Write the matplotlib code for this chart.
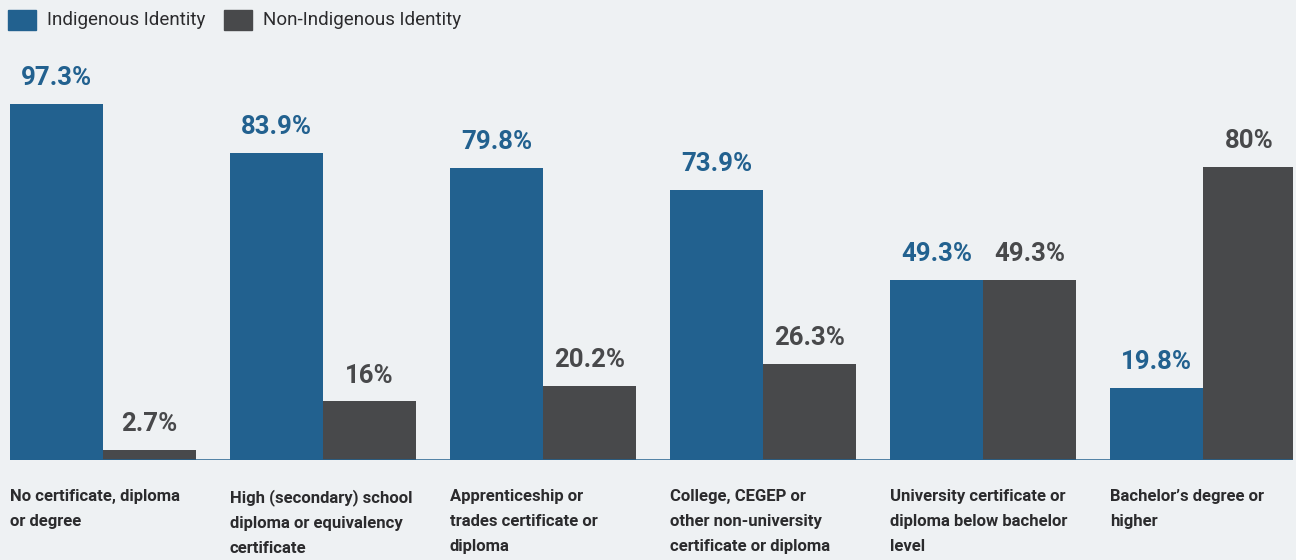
import matplotlib
matplotlib.use("Agg")
import matplotlib.pyplot as plt
from matplotlib.patches import Rectangle
import numpy as np

categories = [
    "No certificate, diploma\nor degree",
    "High (secondary) school\ndiploma or equivalency\ncertificate",
    "Apprenticeship or\ntrades certificate or\ndiploma",
    "College, CEGEP or\nother non-university\ncertificate or diploma",
    "University certificate or\ndiploma below bachelor\nlevel",
    "Bachelor\u2019s degree or\nhigher",
]
indigenous = [97.3, 83.9, 79.8, 73.9, 49.3, 19.8]
non_indigenous = [2.7, 16, 20.2, 26.3, 49.3, 80]
indigenous_labels = ["97.3%", "83.9%", "79.8%", "73.9%", "49.3%", "19.8%"]
non_indigenous_labels = ["2.7%", "16%", "20.2%", "26.3%", "49.3%", "80%"]
series_names = ["Indigenous Identity", "Non-Indigenous Identity"]

BG = "#eef1f3"
BLUE = "#22618f"
GRAY = "#48494b"
TEXT = "#2b2b2d"
FONT = ["Roboto", "DejaVu Sans"]

W, H = 1296, 560
fig = plt.figure(figsize=(W / 100, H / 100), dpi=100, facecolor=BG)

ax_left, ax_right = 10, 1293
ax_bottom, ax_top = 460, 94
ax = fig.add_axes([ax_left / W, 1 - ax_bottom / H, (ax_right - ax_left) / W, (ax_bottom - ax_top) / H])
ax.set_facecolor(BG)

n = len(categories)
pitch = 220.0
bw = 93.0 / pitch
x = np.arange(n)
ax.set_xlim(-0.0, (ax_right - ax_left) / pitch)
ax.set_ylim(0, 100)

b1 = ax.bar(x, indigenous, width=bw, align="edge", color=BLUE, zorder=2)
b2 = ax.bar(x + bw, non_indigenous, width=bw, align="edge", color=GRAY, zorder=2)

for rect, lab in zip(b1, indigenous_labels):
    ax.annotate(lab, (rect.get_x() + rect.get_width() / 2, rect.get_height()),
                xytext=(0, 10), textcoords="offset points", ha="center", va="bottom",
                fontsize=18.5, fontweight="bold", color=BLUE, family=FONT)
for rect, lab in zip(b2, non_indigenous_labels):
    ax.annotate(lab, (rect.get_x() + rect.get_width() / 2, rect.get_height()),
                xytext=(0, 10), textcoords="offset points", ha="center", va="bottom",
                fontsize=18.5, fontweight="bold", color=GRAY, family=FONT)

ax.axhline(0, color=BLUE, lw=1.8, zorder=3)
for s in ax.spines.values():
    s.set_visible(False)
ax.set_xticks([])
ax.set_yticks([])

# category labels
for i, cat in enumerate(categories):
    ax.annotate(cat, (x[i], 0), xytext=(0, -21), textcoords="offset points",
                ha="left", va="top", fontsize=12, fontweight="bold", color=TEXT,
                family=FONT, linespacing=1.83, annotation_clip=False)

# legend
def legend_item(px, label, color):
    fig.patches.append(Rectangle((px / W, 1 - 30 / H), 28 / W, 20 / H,
                                 transform=fig.transFigure, color=color, figure=fig))
    fig.text((px + 39) / W, 1 - 20 / H, label, ha="left", va="center",
             fontsize=13.5, color=TEXT, family=FONT)

legend_item(8, series_names[0], BLUE)
legend_item(224, series_names[1], GRAY)

fig.savefig("out.png", dpi=100, facecolor=BG)
